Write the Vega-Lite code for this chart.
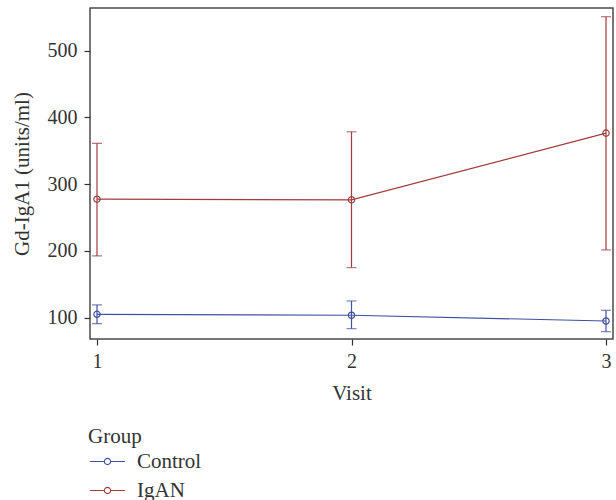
{
  "$schema": "https://vega.github.io/schema/vega-lite/v6.json",
  "autosize": "none",
  "width": 523,
  "height": 331,
  "padding": {"left": 90, "top": 8, "right": 3, "bottom": 161},
  "background": "white",
  "config": {
    "font": "Liberation Serif",
    "view": {"stroke": "#4a4a4a", "strokeWidth": 1.5},
    "axis": {
      "labelFont": "Liberation Serif",
      "titleFont": "Liberation Serif",
      "labelFontSize": 20,
      "titleFontSize": 21,
      "titleFontWeight": "normal",
      "labelColor": "#333333",
      "titleColor": "#333333",
      "tickColor": "#333333",
      "domain": false,
      "grid": false,
      "tickSize": 6,
      "tickWidth": 1.2,
      "labelOverlap": false
    },
    "legend": {
      "titleFont": "Liberation Serif",
      "labelFont": "Liberation Serif",
      "titleFontSize": 21,
      "labelFontSize": 21,
      "titleFontWeight": "normal",
      "titleColor": "#333333",
      "labelColor": "#333333"
    }
  },
  "data": {
    "values": [
      {"visit": 1, "group": "Control", "mean": 105, "lower": 91, "upper": 119},
      {"visit": 2, "group": "Control", "mean": 103.6, "lower": 83.5, "upper": 125},
      {"visit": 3, "group": "Control", "mean": 95, "lower": 79, "upper": 111},
      {"visit": 1, "group": "IgAN", "mean": 277.5, "lower": 192.5, "upper": 361},
      {"visit": 2, "group": "IgAN", "mean": 276.5, "lower": 175, "upper": 378.5},
      {"visit": 3, "group": "IgAN", "mean": 376.5, "lower": 201.5, "upper": 551}
    ]
  },
  "encoding": {
    "x": {
      "field": "visit",
      "type": "ordinal",
      "title": "Visit",
      "scale": {"type": "point", "padding": 0.0275},
      "axis": {"labelAngle": 0, "labelPadding": 6, "titlePadding": 11}
    },
    "color": {
      "field": "group",
      "type": "nominal",
      "title": "Group",
      "scale": {"domain": ["Control", "IgAN"], "range": ["#3F51A0", "#A23B3B"]},
      "legend": {
        "orient": "none",
        "legendX": -2,
        "legendY": 418,
        "padding": 0,
        "titlePadding": 4,
        "rowPadding": 7,
        "symbolType": "M-5.8,0L-1.05,0M1.05,0L5.8,0M-1.05,0A1.05,1.05 0 1,1 1.05,0A1.05,1.05 0 1,1 -1.05,0",
        "symbolSize": 36,
        "symbolStrokeWidth": 1.1,
        "symbolFillColor": "white",
        "symbolOffset": 9,
        "labelOffset": 19,
        "encode": {"symbols": {"update": {"fill": {"value": "white"}, "fillOpacity": {"value": 0}}}}
      }
    }
  },
  "layer": [
    {
      "mark": {"type": "line", "strokeWidth": 1.2},
      "encoding": {
        "y": {
          "field": "mean",
          "type": "quantitative",
          "title": "Gd-IgA1 (units/ml)",
          "scale": {"domain": [68, 564], "nice": false, "zero": false},
          "axis": {"values": [100, 200, 300, 400, 500], "labelPadding": 7, "titlePadding": 15}
        }
      }
    },
    {
      "mark": {"type": "rule", "strokeWidth": 1.2},
      "encoding": {"y": {"field": "lower", "type": "quantitative"}, "y2": {"field": "upper"}}
    },
    {
      "mark": {"type": "tick", "orient": "horizontal", "size": 10, "thickness": 1.2},
      "encoding": {"y": {"field": "upper", "type": "quantitative"}}
    },
    {
      "mark": {"type": "tick", "orient": "horizontal", "size": 10, "thickness": 1.2},
      "encoding": {"y": {"field": "lower", "type": "quantitative"}}
    },
    {
      "mark": {"type": "point", "filled": false, "size": 40, "strokeWidth": 1.2, "opacity": 1},
      "encoding": {"y": {"field": "mean", "type": "quantitative"}}
    }
  ]
}
